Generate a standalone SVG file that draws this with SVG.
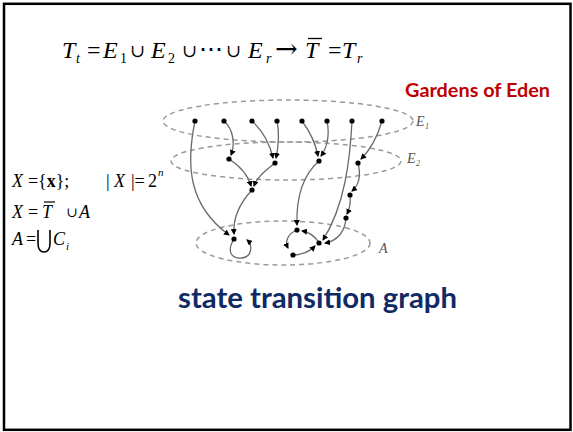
<svg xmlns="http://www.w3.org/2000/svg" width="573" height="432" viewBox="0 0 573 432">
<style>
.m{font-family:"Liberation Serif","Times New Roman",serif;fill:#000}
.s{font-family:"DejaVu Serif","Liberation Serif",serif;fill:#000}
.i{font-style:italic}
.big{font-size:24px}
.sub{font-size:14px}
.f{font-size:18px}
.ell{fill:none;stroke:#9a9a9a;stroke-width:1.5;stroke-dasharray:5 4}
.e{fill:none;stroke:#6a6a6a;stroke-width:1.3}
.lbl{font-family:"Liberation Serif",serif;font-style:italic;fill:#555}
.n{fill:#000}
</style>
<defs>
<marker id="ah" markerWidth="6" markerHeight="6" refX="5" refY="3" orient="auto" markerUnits="userSpaceOnUse">
<path d="M0,0 L6,3 L0,6 Z" fill="#000"/>
</marker>
</defs>
<rect x="4" y="3.8" width="566.5" height="426" fill="#fff" stroke="#000" stroke-width="2.5"/>

<g id="formula-top">
<text class="m i big" x="62" y="58">T</text>
<text class="m i sub" x="76" y="63">t</text>
<text class="m big" x="87" y="58">=</text>
<text class="m i big" x="103" y="58">E</text>
<text class="m sub" x="120" y="63">1</text>
<text class="s" font-size="18" x="130" y="57">∪</text>
<text class="m i big" x="151" y="58">E</text>
<text class="m sub" x="168" y="63">2</text>
<text class="s" font-size="18" x="182" y="57">∪</text>
<text class="s" font-size="24" x="199" y="57">⋯</text>
<text class="s" font-size="18" x="226" y="57">∪</text>
<text class="m i big" x="248" y="58">E</text>
<text class="m i sub" x="266" y="63">r</text>
<text class="s" font-size="27" x="275" y="58">→</text>
<text class="m i big" x="305" y="58">T</text>
<line x1="308" y1="38.5" x2="322" y2="38.5" stroke="#000" stroke-width="1.3"/>
<text class="m big" x="328" y="58">=</text>
<text class="m i big" x="342" y="58">T</text>
<text class="m i sub" x="357" y="63">r</text>
</g>

<g id="formula-left">
<text class="m i f" x="12" y="187">X</text>
<text class="m f" x="28" y="187">=</text>
<text class="m f" x="38" y="187">{<tspan font-weight="bold">x</tspan>};</text>
<text class="m f" x="106" y="187">|</text>
<text class="m i f" x="114" y="187">X</text>
<text class="m f" x="131" y="187">|=</text>
<text class="m f" x="148" y="187">2</text>
<text class="m i" font-size="11" x="158" y="176">n</text>

<text class="m i f" x="12" y="218">X</text>
<text class="m f" x="28" y="218">=</text>
<text class="m i f" x="42" y="218">T</text>
<line x1="44" y1="202" x2="55" y2="202" stroke="#000" stroke-width="1.2"/>
<text class="s" font-size="14" x="66" y="217">∪</text>
<text class="m i f" x="79" y="218">A</text>

<text class="m i f" x="12" y="245">A</text>
<text class="m f" x="26" y="245">=</text>
<path d="M38,230 L38,243 Q38,252 44,252 Q50,252 50,243 L50,230" fill="none" stroke="#000" stroke-width="1.6"/>
<text class="m i f" x="53" y="245">C</text>
<text class="m i" font-size="11" x="66" y="250">i</text>
</g>

<g id="sets">
<ellipse class="ell" cx="288" cy="121" rx="125" ry="21"/>
<ellipse class="ell" cx="286" cy="161" rx="115" ry="19"/>
<ellipse class="ell" cx="283" cy="243" rx="87" ry="22"/>
<text class="lbl" font-size="14" x="416" y="126">E</text>
<text class="lbl" font-size="8" x="425" y="129" font-style="normal">1</text>
<text class="lbl" font-size="14" x="407" y="163">E</text>
<text class="lbl" font-size="8" x="416" y="166" font-style="normal">2</text>
<text class="lbl" font-size="14" x="379" y="253">A</text>
</g>

<g id="connectors">
<path class="e" marker-end="url(#ah)" d="M195,121 C186,165 188,205 229,235"/>
<path class="e" marker-end="url(#ah)" d="M224,121 C234,130 235,145 231,155"/>
<path class="e" marker-end="url(#ah)" d="M252,121 C264,132 270,145 273,158"/>
<path class="e" marker-end="url(#ah)" d="M277,121 C280,135 278,148 276,158"/>
<path class="e" marker-end="url(#ah)" d="M229,159 C240,166 248,175 251,186"/>
<path class="e" marker-end="url(#ah)" d="M275,163 C266,170 257,177 254,186"/>
<path class="e" marker-end="url(#ah)" d="M252,190 C238,205 233,220 234,234"/>
<path class="e" marker-end="url(#ah)" d="M234,239 C226,252 232,259 242,258 C252,257 253,245 247,240"/>
<path class="e" marker-end="url(#ah)" d="M302,121 C311,133 316,146 318,156"/>
<path class="e" marker-end="url(#ah)" d="M327,121 C330,135 327,148 321,156"/>
<path class="e" marker-end="url(#ah)" d="M319,161 C303,175 296,195 297,225"/>
<path class="e" marker-end="url(#ah)" d="M352,121 C350,160 345,205 323,240"/>
<path class="e" marker-end="url(#ah)" d="M382,121 C378,135 370,150 361,159"/>
<path class="e" marker-end="url(#ah)" d="M358,163 C361,175 359,185 352,191"/>
<path class="e" marker-end="url(#ah)" d="M350,195 C351,203 349,210 347,214"/>
<path class="e" marker-end="url(#ah)" d="M346,218 C345,232 337,241 325,243"/>
<path class="e" marker-end="url(#ah)" d="M297,230 C287,234 285,242 288,248"/>
<path class="e" marker-end="url(#ah)" d="M293,255 C301,255 309,252 315,246"/>
<path class="e" marker-end="url(#ah)" d="M319,243 C315,236 309,232 302,231"/>
</g>

<g id="nodes">
<circle class="n" cx="195" cy="121" r="2.6"/>
<circle class="n" cx="224" cy="121" r="2.6"/>
<circle class="n" cx="252" cy="121" r="2.6"/>
<circle class="n" cx="277" cy="121" r="2.6"/>
<circle class="n" cx="302" cy="121" r="2.6"/>
<circle class="n" cx="327" cy="121" r="2.6"/>
<circle class="n" cx="352" cy="121" r="2.6"/>
<circle class="n" cx="382" cy="121" r="2.6"/>
<circle class="n" cx="229" cy="159" r="2.6"/>
<circle class="n" cx="275" cy="163" r="2.6"/>
<circle class="n" cx="319" cy="161" r="2.6"/>
<circle class="n" cx="358" cy="163" r="2.6"/>
<circle class="n" cx="252" cy="190" r="2.6"/>
<circle class="n" cx="350" cy="195" r="2.6"/>
<circle class="n" cx="346" cy="218" r="2.6"/>
<circle class="n" cx="234" cy="239" r="2.6"/>
<circle class="n" cx="297" cy="230" r="2.6"/>
<circle class="n" cx="319" cy="243" r="2.6"/>
<circle class="n" cx="293" cy="255" r="2.6"/>
</g>

<text id="garden" x="405" y="97" font-family="Lato,'Open Sans',sans-serif" font-weight="bold" font-size="18" textLength="145" lengthAdjust="spacingAndGlyphs" fill="#C00000">Gardens of Eden</text>
<text id="title" x="178" y="308" font-family="Lato,'Open Sans',sans-serif" font-weight="bold" font-size="29" textLength="279" lengthAdjust="spacingAndGlyphs" fill="#102A66">state transition graph</text>
</svg>
